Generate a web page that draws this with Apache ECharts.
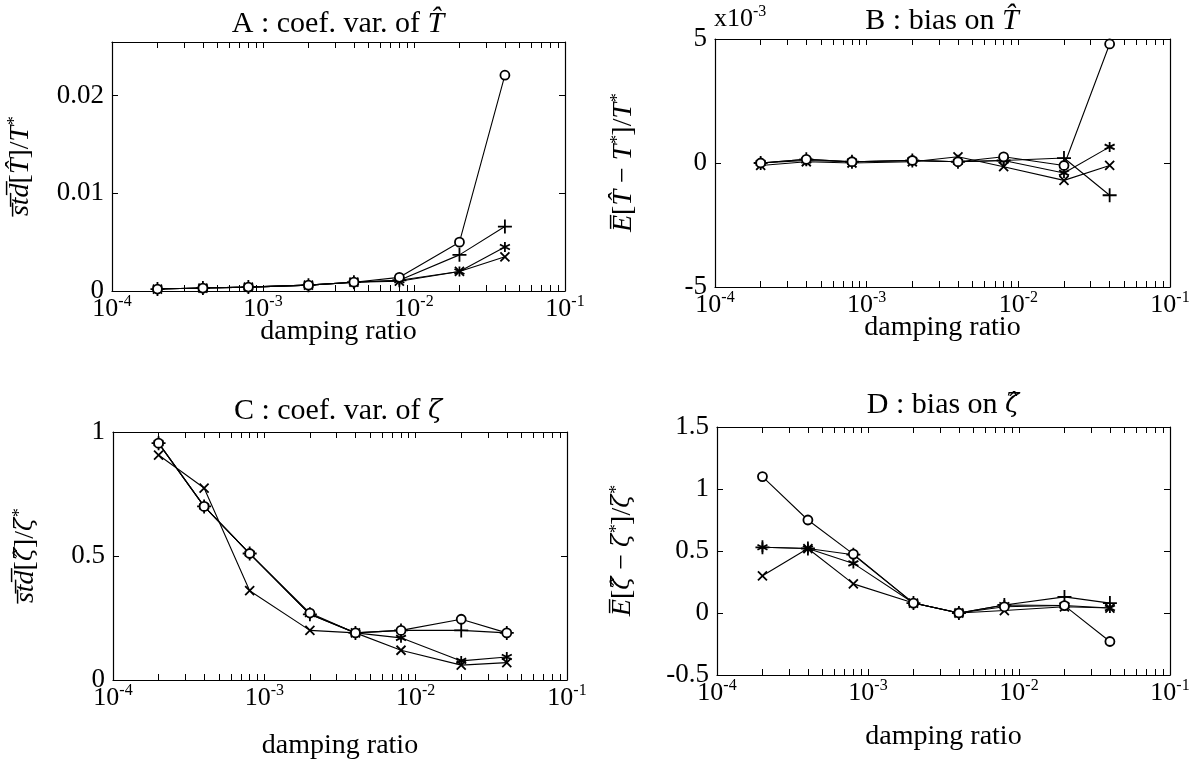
<!DOCTYPE html>
<html>
<head>
<meta charset="utf-8">
<script src="https://cdn.jsdelivr.net/npm/echarts@6/dist/echarts.min.js"></script>
<style>
  html, body { margin: 0; padding: 0; background: #fff; }
  #main { width: 1200px; height: 764px; }
</style>
</head>
<body>
<div id="main"></div>
<script>
// damping ratios (x, log axis)
var ratio = [2e-4, 4e-4, 8e-4, 2e-3, 4e-3, 8e-3, 2e-2, 4e-2];

// A : coef. var. of T
var aCircle = [0.0002, 0.0003, 0.0004, 0.0006, 0.0009, 0.0014, 0.0050, 0.0221];
var aPlus   = [0.0002, 0.0003, 0.0004, 0.0006, 0.0009, 0.0011, 0.0037, 0.0066];
var aStar   = [0.0002, 0.0003, 0.0004, 0.0006, 0.0009, 0.0011, 0.0020, 0.0045];
var aCross  = [0.0002, 0.0003, 0.0004, 0.0006, 0.0009, 0.0010, 0.0020, 0.0035];

// B : bias on T  (units of 1e-3)
var bCircle = [0.0, 0.15, 0.05, 0.1, 0.05, 0.25, -0.1, 4.8];
var bPlus   = [0.0, 0.15, 0.05, 0.1, 0.05, 0.1, 0.2, -1.3];
var bStar   = [0.0, 0.1, 0.05, 0.1, 0.05, 0.1, -0.4, 0.65];
var bCross  = [-0.1, 0.05, 0.0, 0.05, 0.25, -0.15, -0.7, -0.1];

// C : coef. var. of zeta
var cCircle = [0.955, 0.70, 0.51, 0.27, 0.19, 0.20, 0.245, 0.19];
var cPlus   = [0.955, 0.70, 0.51, 0.265, 0.19, 0.20, 0.20, 0.19];
var cStar   = [0.955, 0.70, 0.51, 0.265, 0.19, 0.17, 0.077, 0.093];
var cCross  = [0.907, 0.774, 0.36, 0.20, 0.19, 0.12, 0.06, 0.07];

// D : bias on zeta
var dCircle = [1.10, 0.75, 0.475, 0.08, 0.0, 0.05, 0.06, -0.23];
var dPlus   = [0.53, 0.52, 0.47, 0.08, 0.0, 0.065, 0.13, 0.08];
var dStar   = [0.53, 0.52, 0.40, 0.08, 0.0, 0.065, 0.06, 0.04];
var dCross  = [0.30, 0.52, 0.235, 0.08, 0.0, 0.02, 0.05, 0.04];

// tick labels
var xMajor = [1e-4, 1e-3, 1e-2, 1e-1];
var aTicks = [0, 0.01, 0.02];
var bTicks = [-5, 0, 5];
var cTicks = [0, 0.5, 1];
var dTicks = [-0.5, 0, 0.5, 1, 1.5];

(function(){
	var chart = echarts.init(document.getElementById("main"));
	var serif = "'Liberation Serif', 'DejaVu Serif', serif";
	var greek = "'DejaVu Serif', serif";

	var xMinor = [];
	for (var d = -4; d < -1; d++) {
		for (var k = 1; k < 10; k++) xMinor.push(k * Math.pow(10, d));
	}
	xMinor.push(1e-1);

	var grids = [
		{left: 112, top: 42, width: 453, height: 249},
		{left: 715, top: 39, width: 455, height: 248},
		{left: 113, top: 432, width: 454, height: 248},
		{left: 717, top: 427, width: 453, height: 248}
	];

	var supRich = {
		b: {fontFamily: serif, fontSize: 26, color: '#000', lineHeight: 28, verticalAlign: 'bottom'},
		s: {fontFamily: serif, fontSize: 16, color: '#000', lineHeight: 28, verticalAlign: 'top'}
	};
	var nameRich = {
		i: {fontFamily: serif, fontSize: 28, fontStyle: 'italic', color: '#000'},
		g: {fontFamily: greek, fontSize: 24, fontStyle: 'italic', color: '#000'},
		r: {fontFamily: serif, fontSize: 28, color: '#000'},
		s: {fontFamily: serif, fontSize: 18, fontStyle: 'italic', color: '#000', verticalAlign: 'top', lineHeight: 30}
	};

	var xAxes = [], yAxes = [];
	var xGap = [27, 27, 52, 48];
	grids.forEach(function(g, i){
		xAxes.push({
			type: 'log', logBase: 10, min: 1e-4, max: 1e-1, gridIndex: i,
			name: 'damping ratio', nameLocation: 'middle', nameGap: xGap[i], nameMoveOverlap: false,
			nameTextStyle: {fontFamily: serif, fontSize: 28, color: '#000'},
			axisLine: {onZero: false, lineStyle: {color: '#000', width: 1.2}},
			axisTick: {inside: true, length: 6, customValues: xMinor, lineStyle: {color: '#000'}},
			axisLabel: {
				customValues: xMajor, margin: 3,
				formatter: function(v){ return '{b|10}{s|' + Math.round(Math.log10(v)) + '}'; },
				rich: supRich
			},
			splitLine: {show: false}
		});
		xAxes.push({
			type: 'log', logBase: 10, min: 1e-4, max: 1e-1, gridIndex: i, position: 'top',
			axisLine: {onZero: false, lineStyle: {color: '#000', width: 1.2}},
			axisTick: {inside: true, length: 6, customValues: xMinor, lineStyle: {color: '#000'}},
			axisLabel: {show: false},
			splitLine: {show: false}
		});
	});

	var yCfg = [
		{min: 0, max: 0.0255, ticks: aTicks, gap: 76, fmt: function(v){ return v === 0 ? '0' : v.toFixed(2); },
		 name: '{i|s̅t̅d̅}{r|[}{i|T̂}{r|]/}{i|T}{s|*}'},
		{min: -5, max: 5, ticks: bTicks, gap: 76, fmt: function(v){ return String(v); },
		 name: '{i|E̅}{r|[}{i|T̂}{r| − }{i|T}{s|*}{r|]/}{i|T}{s|*}'},
		{min: 0, max: 1, ticks: cTicks, gap: 72, fmt: function(v){ return String(v); },
		 name: '{i|s̅t̅d̅}{r|[}{g|ζ̂}{r|]/}{g|ζ}{s|*}'},
		{min: -0.5, max: 1.5, ticks: dTicks, gap: 79, fmt: function(v){ return String(v); },
		 name: '{i|E̅}{r|[}{g|ζ̂}{r| − }{g|ζ}{s|*}{r|]/}{g|ζ}{s|*}'}
	];
	yCfg.forEach(function(c, i){
		yAxes.push({
			type: 'value', min: c.min, max: c.max, gridIndex: i,
			name: c.name, nameLocation: 'middle', nameGap: c.gap, nameRotate: 90, nameMoveOverlap: false,
			nameTextStyle: {rich: nameRich},
			axisLine: {onZero: false, lineStyle: {color: '#000', width: 1.2}},
			axisTick: {inside: true, length: 6, customValues: c.ticks, lineStyle: {color: '#000'}},
			axisLabel: {customValues: c.ticks, margin: 8, formatter: c.fmt,
				fontFamily: serif, fontSize: 27, color: '#000'},
			splitLine: {show: false}
		});
		yAxes.push({
			type: 'value', min: c.min, max: c.max, gridIndex: i, position: 'right',
			axisLine: {onZero: false, lineStyle: {color: '#000', width: 1.2}},
			axisTick: {inside: true, length: 6, customValues: c.ticks, lineStyle: {color: '#000'}},
			axisLabel: {show: false},
			splitLine: {show: false}
		});
	});

	var symbols = {
		circle: {symbol: 'circle', size: 9, fill: '#fff'},
		plus: {symbol: 'path://M0,-1L0,1M-1,0L1,0', size: 14, fill: 'none'},
		star: {symbol: 'path://M0,-1L0,1M-0.87,-0.5L0.87,0.5M-0.87,0.5L0.87,-0.5', size: 10, fill: 'none'},
		cross: {symbol: 'path://M-1,-1L1,1M-1,1L1,-1', size: 9, fill: 'none'}
	};

	function line(panel, values, kind) {
		var s = symbols[kind];
		return {
			type: 'line', xAxisIndex: panel * 2, yAxisIndex: panel * 2,
			data: ratio.map(function(x, j){ return [x, values[j]]; }),
			symbol: s.symbol, symbolSize: s.size, showAllSymbol: true,
			lineStyle: {color: '#000', width: 1.1},
			itemStyle: {color: s.fill, borderColor: '#000', borderWidth: 1.8},
			animation: false, silent: true, z: 3
		};
	}

	var series = [
		line(0, aStar, 'star'), line(0, aCross, 'cross'), line(0, aPlus, 'plus'), line(0, aCircle, 'circle'),
		line(1, bStar, 'star'), line(1, bCross, 'cross'), line(1, bPlus, 'plus'), line(1, bCircle, 'circle'),
		line(2, cStar, 'star'), line(2, cCross, 'cross'), line(2, cPlus, 'plus'), line(2, cCircle, 'circle'),
		line(3, dStar, 'star'), line(3, dCross, 'cross'), line(3, dPlus, 'plus'), line(3, dCircle, 'circle')
	];

	function title(text, x, y) {
		return {
			type: 'text', x: x, y: y,
			style: {
				text: text, textAlign: 'center', textVerticalAlign: 'middle',
				rich: {
					r: {fontFamily: serif, fontSize: 30, color: '#000'},
					i: {fontFamily: serif, fontSize: 30, fontStyle: 'italic', color: '#000'},
					g: {fontFamily: greek, fontSize: 26, fontStyle: 'italic', color: '#000'}
				}
			}
		};
	}

	option = {
		backgroundColor: '#fff',
		animation: false,
		grid: grids,
		xAxis: xAxes,
		yAxis: yAxes,
		series: series,
		graphic: [
			title('{r|A : coef. var. of }{i|T̂}', 338, 24),
			title('{r|B : bias on }{i|T̂}', 942, 21),
			title('{r|C : coef. var. of }{g|ζ}', 338, 411),
			title('{r|D : bias on }{g|ζ̂}', 943, 405),
			{
				type: 'text', x: 714, y: 18,
				style: {
					text: '{r|x10}{s|-3}', textVerticalAlign: 'middle',
					rich: {
						r: {fontFamily: serif, fontSize: 26, color: '#000', lineHeight: 28, verticalAlign: 'bottom'},
						s: {fontFamily: serif, fontSize: 16, color: '#000', lineHeight: 28, verticalAlign: 'top'}
					}
				}
			}
		]
	};

	chart.setOption(option);
})();
</script>
</body>
</html>
